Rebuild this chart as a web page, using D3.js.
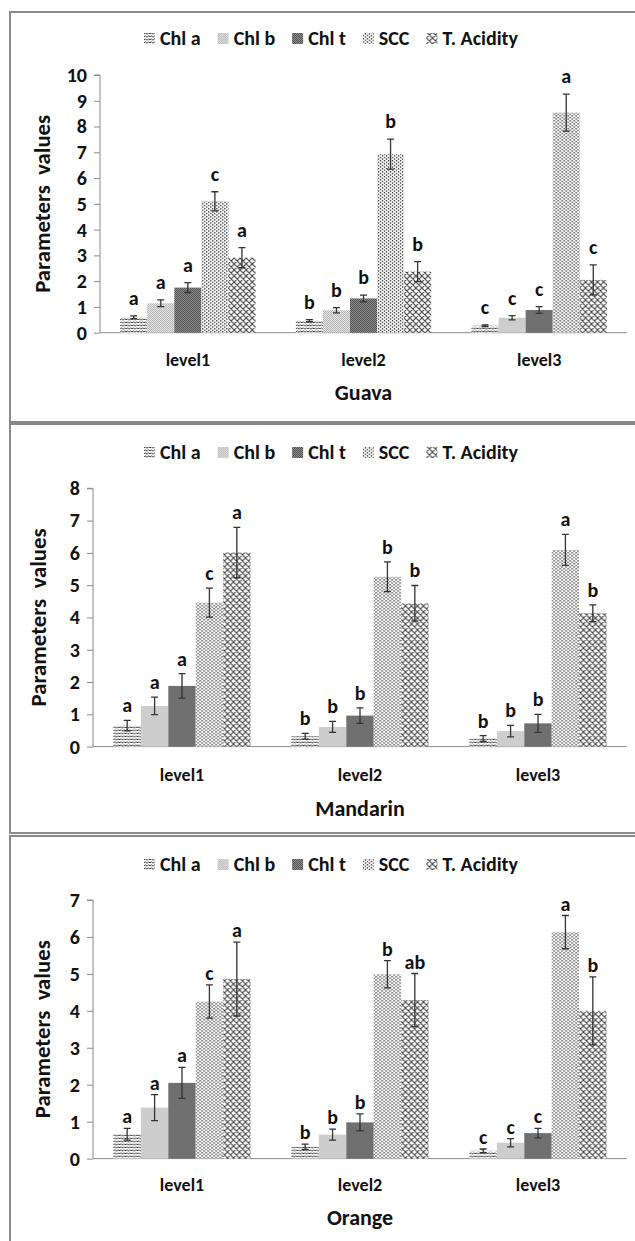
<!DOCTYPE html>
<html><head><meta charset="utf-8">
<script src="https://cdn.jsdelivr.net/npm/d3@7/dist/d3.min.js"></script>
<style>
html,body{margin:0;padding:0;background:#fff;}
svg{display:block;font-family:Carlito,Lato,"Open Sans",sans-serif;}
</style></head>
<body>
<svg id="chart" width="635" height="1241"></svg>
<script>
const categories = ["level1", "level2", "level3"];
const seriesNames = ["Chl a", "Chl b", "Chl t", "SCC", "T. Acidity"];

const guavaMeans = [[0.6, 1.14, 1.75, 5.1, 2.91], [0.47, 0.87, 1.33, 6.93, 2.37], [0.27, 0.58, 0.88, 8.54, 2.05]];
const guavaErrors = [[0.05, 0.13, 0.19, 0.37, 0.39], [0.04, 0.1, 0.13, 0.58, 0.39], [0.03, 0.08, 0.13, 0.72, 0.58]];
const guavaLetters = [["a", "a", "a", "c", "a"], ["b", "b", "b", "b", "b"], ["c", "c", "c", "a", "c"]];
const guavaTicks = [0, 1, 2, 3, 4, 5, 6, 7, 8, 9, 10];

const mandarinMeans = [[0.65, 1.26, 1.88, 4.46, 6.01], [0.32, 0.61, 0.96, 5.26, 4.44], [0.25, 0.48, 0.72, 6.09, 4.13]];
const mandarinErrors = [[0.16, 0.27, 0.38, 0.45, 0.78], [0.09, 0.17, 0.24, 0.46, 0.55], [0.09, 0.18, 0.28, 0.48, 0.26]];
const mandarinLetters = [["a", "a", "a", "c", "a"], ["b", "b", "b", "b", "b"], ["b", "b", "b", "a", "b"]];
const mandarinTicks = [0, 1, 2, 3, 4, 5, 6, 7, 8];

const orangeMeans = [[0.66, 1.38, 2.05, 4.25, 4.86], [0.32, 0.65, 0.98, 4.99, 4.29], [0.21, 0.43, 0.69, 6.13, 4.0]];
const orangeErrors = [[0.16, 0.35, 0.42, 0.45, 1.0], [0.07, 0.15, 0.23, 0.37, 0.72], [0.05, 0.11, 0.13, 0.45, 0.92]];
const orangeLetters = [["a", "a", "a", "c", "a"], ["b", "b", "b", "b", "ab"], ["c", "c", "c", "a", "b"]];
const orangeTicks = [0, 1, 2, 3, 4, 5, 6, 7];

const yTitle = "Parameters  values";

const panels = [
  {title: "Guava", means: guavaMeans, errors: guavaErrors, letters: guavaLetters, ticks: guavaTicks,
   box: [10, 12, 640, 410], legendY: 38, axisX: 100, axisRight: 627, y0: 332.7, yTop: 75, titleX: 42, letterGap: 11, levelY: 360, nameY: 392},
  {title: "Mandarin", means: mandarinMeans, errors: mandarinErrors, letters: mandarinLetters, ticks: mandarinTicks,
   box: [10, 424, 640, 409], legendY: 452, axisX: 93, axisRight: 627, y0: 746.6, yTop: 488.3, titleX: 38, letterGap: 8, levelY: 775, nameY: 808},
  {title: "Orange", means: orangeMeans, errors: orangeErrors, letters: orangeLetters, ticks: orangeTicks,
   box: [10, 836, 640, 420], legendY: 864, axisX: 93, axisRight: 627, y0: 1158.6, yTop: 900, titleX: 42, letterGap: 5, levelY: 1185, nameY: 1217}
];

const svg = d3.select("#chart");
const defs = svg.append("defs");

// patterns
const pA = defs.append("pattern").attr("id", "p0").attr("patternUnits", "userSpaceOnUse").attr("width", 6).attr("height", 3);
pA.append("rect").attr("width", 6).attr("height", 3).attr("fill", "#fff");
pA.append("path").attr("d", "M-0.5 2.2 L1.5 0.8 L3 2.3 L4.5 0.8 L6.5 2.3")
  .attr("fill", "none").attr("stroke", "#404040").attr("stroke-width", 1);

const pB = defs.append("pattern").attr("id", "p1").attr("patternUnits", "userSpaceOnUse").attr("width", 2).attr("height", 2);
pB.append("rect").attr("width", 2).attr("height", 2).attr("fill", "#f2f2f2");
pB.append("rect").attr("width", 1).attr("height", 1).attr("fill", "#a8a8a8");
pB.append("rect").attr("x", 1).attr("y", 1).attr("width", 1).attr("height", 1).attr("fill", "#a8a8a8");

const pT = defs.append("pattern").attr("id", "p2").attr("patternUnits", "userSpaceOnUse").attr("width", 2).attr("height", 2);
pT.append("rect").attr("width", 2).attr("height", 2).attr("fill", "#959595");
pT.append("rect").attr("width", 1).attr("height", 1).attr("fill", "#4a4a4a");
pT.append("rect").attr("x", 1).attr("y", 1).attr("width", 1).attr("height", 1).attr("fill", "#4a4a4a");

const pS = defs.append("pattern").attr("id", "p3").attr("patternUnits", "userSpaceOnUse").attr("width", 4).attr("height", 3.2);
pS.append("rect").attr("width", 4).attr("height", 3.2).attr("fill", "#fff");
pS.append("rect").attr("x", 0).attr("y", 0).attr("width", 1.2).attr("height", 1.4).attr("fill", "#2a2a2a");
pS.append("rect").attr("x", 2).attr("y", 1.6).attr("width", 1.2).attr("height", 1.4).attr("fill", "#2a2a2a");

const pX = defs.append("pattern").attr("id", "p4").attr("patternUnits", "userSpaceOnUse").attr("width", 6).attr("height", 6);
pX.append("rect").attr("width", 6).attr("height", 6).attr("fill", "#fff");
pX.append("path").attr("d", "M0 0 L6 6 M6 0 L0 6 M-1 5 L1 7 M5 -1 L7 1 M-1 1 L1 -1 M5 7 L7 5").attr("stroke", "#444").attr("stroke-width", 1.1);

panels.forEach(p => {
  const g = svg.append("g");
  g.append("rect").attr("x", p.box[0]).attr("y", p.box[1]).attr("width", p.box[2]).attr("height", p.box[3])
    .attr("fill", "none").attr("stroke", "#8a8a8a").attr("stroke-width", 2);

  const maxTick = p.ticks[p.ticks.length - 1];
  const y = d3.scaleLinear().domain([0, maxTick]).range([p.y0, p.yTop]);
  const x0 = d3.scaleBand().domain(categories).range([p.axisX, p.axisRight]).paddingInner(0.23).paddingOuter(0.115);
  const x1 = d3.scaleBand().domain(seriesNames).range([0, x0.bandwidth()]);

  // y axis
  const yAxis = d3.axisLeft(y).tickValues(p.ticks).tickSize(6).tickPadding(7).tickFormat(d3.format("d"));
  const ya = g.append("g").attr("transform", `translate(${p.axisX},0)`).call(yAxis);
  ya.select(".domain").attr("stroke", "#8a8a8a").attr("d", `M-6,${p.yTop}H0V${p.y0}`);
  ya.selectAll(".tick line").attr("stroke", "#8a8a8a");
  ya.selectAll(".tick text").attr("fill", "#111").attr("font-size", 20).attr("font-weight", "bold")
    .attr("font-family", "Carlito,Lato,sans-serif");

  // x axis
  const xAxis = d3.axisBottom(x0).tickSize(0).tickPadding(20);
  const xa = g.append("g").attr("transform", `translate(0,${p.y0})`).call(xAxis);
  xa.select(".domain").attr("stroke", "#8a8a8a").attr("d", `M${p.axisX},0H${p.axisRight}`);
  xa.selectAll(".tick text").attr("fill", "#111").attr("font-size", 18).attr("font-weight", "bold")
    .attr("font-family", "Carlito,Lato,sans-serif").attr("dy", "0.35em").attr("y", p.levelY - p.y0);

  // bars
  const groups = g.selectAll("g.grp").data(categories).join("g").attr("class", "grp")
    .attr("transform", c => `translate(${x0(c)},0)`);
  groups.each(function(c, ci) {
    const gg = d3.select(this);
    const rows = seriesNames.map((s, si) => ({s, si, v: p.means[ci][si], e: p.errors[ci][si], l: p.letters[ci][si]}));
    gg.selectAll("rect.bar").data(rows).join("rect").attr("class", "bar")
      .attr("x", d => x1(d.s)).attr("width", x1.bandwidth())
      .attr("y", d => y(d.v)).attr("height", d => p.y0 - y(d.v))
      .attr("fill", d => `url(#p${d.si})`);
    const eb = gg.selectAll("g.err").data(rows).join("g").attr("class", "err")
      .attr("transform", d => `translate(${x1(d.s) + x1.bandwidth() / 2},0)`);
    eb.append("path").attr("d", d => `M0,${y(d.v + d.e)}V${y(d.v - d.e)}M-3.5,${y(d.v + d.e)}H3.5M-3.5,${y(d.v - d.e)}H3.5`)
      .attr("stroke", "#333").attr("stroke-width", 1.3).attr("fill", "none");
    eb.append("text").attr("y", d => y(d.v + d.e) - p.letterGap).attr("text-anchor", "middle")
      .attr("font-size", 20).attr("font-weight", "bold").attr("fill", "#111").text(d => d.l);
  });

  // y title
  g.append("text").attr("transform", `translate(${p.titleX},${(p.y0 + p.yTop) / 2}) rotate(-90)`)
    .attr("text-anchor", "middle").attr("dy", "0.35em").attr("font-size", 22).attr("font-weight", "bold")
    .attr("textLength", 178).attr("lengthAdjust", "spacingAndGlyphs")
    .attr("fill", "#111").attr("xml:space", "preserve").style("white-space", "pre").text(yTitle);

  // panel name
  g.append("text").attr("x", (p.axisX + p.axisRight) / 2).attr("y", p.nameY).attr("dy", "0.35em")
    .attr("text-anchor", "middle").attr("font-size", 22).attr("font-weight", "bold").attr("fill", "#111").text(p.title);

  // legend
  const lg = g.append("g");
  let cx = 0;
  seriesNames.forEach((s, si) => {
    const it = lg.append("g");
    it.append("rect").attr("x", 0).attr("y", -5).attr("width", 11).attr("height", 11).attr("fill", `url(#p${si})`);
    const t = it.append("text").attr("x", 16).attr("y", 0).attr("dy", "0.35em").attr("font-size", 20)
      .attr("font-weight", "bold").attr("fill", "#111").text(s);
    const w = 16 + t.node().getComputedTextLength();
    it.attr("transform", `translate(${cx},${p.legendY})`);
    cx += w + 17;
  });
  const total = cx - 17;
  lg.attr("transform", `translate(${331 - total / 2},0)`);
});
</script>
</body></html>
